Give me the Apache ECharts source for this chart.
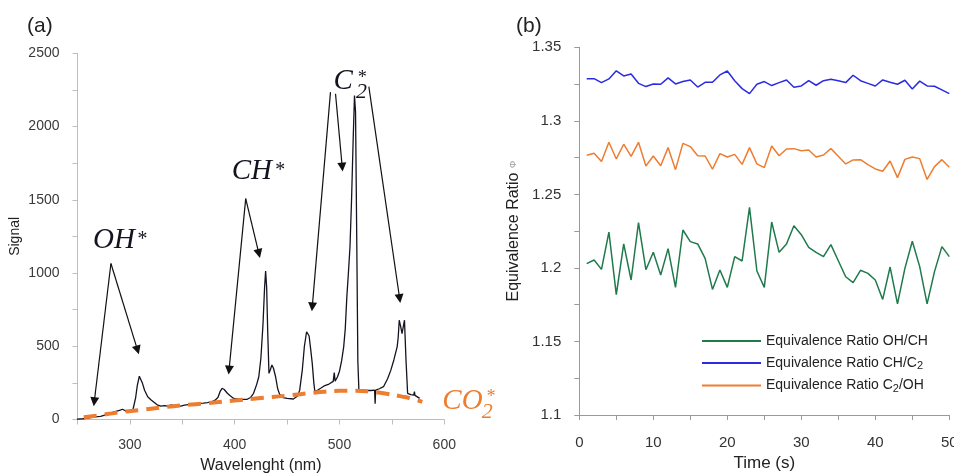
<!DOCTYPE html>
<html><head><meta charset="utf-8">
<script src="https://cdn.jsdelivr.net/npm/echarts@6/dist/echarts.min.js"></script>
<style>html,body{margin:0;padding:0;background:#fff}#c{width:954px;height:473px}</style>
</head><body><div id="c"></div>
<script>
// ---------- Panel (a): emission spectrum ----------
const specWavelength = [249.5,255,260,266,272,276,280,285,290,293,296,298,301,303,305.5,307,309,310.5,312,314,317,320,323,326,329.5,333,336,339,343,348.6,352,356,361,366,370,374,378,381,384,386,388,390,393,396,399,403,408,412,415,418,421,423,425,427,428.5,429.5,430.5,431.5,432.7,434,435.5,437,439,441,443,446,450,456,460,462,464.5,466.5,468.6,470,471,472.5,474,475.5,476.5,479,482,486,490,494,495,495.8,498,500,502,504,505.5,507,508.5,510,511.5,513,514.3,515.3,516.5,517.5,518.5,522,526,530,533.5,534,534.5,538,542,546,549,552,555,556,557,558.5,559.7,561,562,563.5,565,568,570.8,571.5,572,576.5];
const specSignal = [2,5,10,18,22,30,38,52,62,70,58,52,62,70,150,230,296,285,247,200,155,135,118,100,92,95,92,99,95,92,98,102,106,110,112,115,120,130,150,190,213,205,179,160,144,140,138,138,150,179,240,292,420,650,900,1014,900,600,315,340,372,350,292,210,170,150,144,140,160,200,337,500,599,590,570,480,383,250,190,200,213,232,242,260,320,262,290,330,400,496,620,837,1000,1178,1500,1900,2212,2100,1200,400,201,200,198,198,200,108,200,210,224,280,337,410,496,560,678,630,587,640,678,400,179,170,167,190,165,144];
const co2Wavelength = [256,270,288,310,330,350,375,400,425,450,475,500,515,530,545,560,570,579];
const co2Signal = [15,28,47,65,82,97,112,130,147,163,182,196,197,190,176,156,140,121];
// arrows: [from nm, from signal, to nm, to signal]
const arrowFromNm = [281.9,281.9,410.5,410.5,491.4,496.2,528];
const arrowFromSig = [1065,1065,1508,1508,2235,2224,2273];
const arrowToNm = [266,307.3,394.6,423.1,474,502.6,557.4];
const arrowToSig = [121,474,337,1133,769,1723,826];

// ---------- Panel (b): equivalence ratios ----------
const timeS = [1,2,3,4,5,6,7,8,9,10,11,12,13,14,15,16,17,18,19,20,21,22,23,24,25,26,27,28,29,30,31,32,33,34,35,36,37,38,39,40,41,42,43,44,45,46,47,48,49,50];
const ratioOHCH = [1.2029,1.2054,1.1990,1.2244,1.1818,1.2163,1.1918,1.2308,1.1988,1.2106,1.1952,1.2131,1.1868,1.2258,1.2179,1.2163,1.2065,1.1854,1.1986,1.1868,1.2077,1.2047,1.2412,1.1979,1.1868,1.2312,1.2106,1.2163,1.2287,1.2226,1.2140,1.2106,1.2077,1.2158,1.2049,1.1940,1.1900,1.1984,1.1963,1.1918,1.1786,1.2006,1.1755,1.1997,1.2181,1.2009,1.1755,1.1975,1.2145,1.2077];
const ratioCHC2 = [1.3287,1.3287,1.3260,1.3285,1.3340,1.3305,1.3319,1.3255,1.3233,1.3251,1.3249,1.3292,1.3251,1.3267,1.3278,1.3230,1.3262,1.3262,1.3312,1.3339,1.3273,1.3219,1.3185,1.3249,1.3267,1.3240,1.3260,1.3278,1.3228,1.3237,1.3273,1.3242,1.3273,1.3283,1.3273,1.3260,1.3310,1.3273,1.3255,1.3237,1.3278,1.3262,1.3249,1.3276,1.3217,1.3270,1.3237,1.3235,1.3210,1.3185];
const ratioC2OH = [1.2766,1.2779,1.2723,1.2854,1.2741,1.2841,1.2759,1.2854,1.2693,1.2761,1.2695,1.2818,1.2668,1.2847,1.2825,1.2763,1.2761,1.2671,1.2777,1.2754,1.2772,1.2704,1.2818,1.2707,1.2682,1.2829,1.2763,1.2809,1.2811,1.2797,1.2802,1.2754,1.2768,1.2811,1.2759,1.2707,1.2734,1.2736,1.2702,1.2673,1.2657,1.2727,1.2614,1.2738,1.2754,1.2743,1.2602,1.2689,1.2736,1.2684];
const seriesNames = ['Equivalence Ratio OH/CH','Equivalence Ratio CH/C2','Equivalence Ratio C2/OH'];

const zip = (a,b) => a.map((v,i)=>[v,b[i]]);
const ink = '#141420';
const orange = '#ED7D31';
const sans = 'Liberation Sans, Arial, sans-serif';

const chart = echarts.init(document.getElementById('c'));
chart.setOption({
  animation: false,
  backgroundColor: '#fff',
  title: [
    {text:'(a)', left:22, top:11, textStyle:{fontSize:21, fontWeight:'normal', color:'#222', fontFamily:sans}},
    {text:'(b)', left:511, top:11, textStyle:{fontSize:21, fontWeight:'normal', color:'#222', fontFamily:sans}}
  ],
  grid: [
    {left:77.5, right:509.7, top:53.3, bottom:53.5, outerBoundsMode:'none', containLabel:false},
    {left:579.3, right:4.7, top:47.3, bottom:58, outerBoundsMode:'none', containLabel:false}
  ],
  legend: {
    data: seriesNames, orient:'vertical', left:697, top:328,
    icon:'rect', itemWidth:59, itemHeight:2, itemGap:6,
    textStyle:{fontSize:14, color:'#222', fontFamily:sans, lineHeight:16,
      rich:{s:{fontSize:11, fontFamily:sans, color:'#222', padding:[6,0,0,0]}}},
    formatter: n => n.replace(/C2/g, 'C{s|2}')
  },
  xAxis: [
    {gridIndex:0, type:'value', min:250, max:600, interval:50,
     name:'Wavelenght (nm)', nameLocation:'middle', nameGap:35,
     nameTextStyle:{fontSize:16, color:'#222', fontFamily:sans},
     axisLine:{lineStyle:{color:'#bdbdbd', width:1}},
     axisTick:{length:5, lineStyle:{color:'#bdbdbd'}},
     axisLabel:{fontSize:14, color:'#3a3a3a', fontFamily:sans, margin:19, formatter:v => v % 100 === 0 ? String(v) : ''},
     splitLine:{show:false}},
    {gridIndex:1, type:'value', min:0, max:50, interval:5,
     name:'Time (s)', nameLocation:'middle', nameGap:37,
     nameTextStyle:{fontSize:17, color:'#222', fontFamily:sans},
     axisLine:{lineStyle:{color:'#9a9a9a', width:1}},
     axisTick:{length:5, lineStyle:{color:'#9a9a9a'}},
     axisLabel:{fontSize:15, color:'#333', fontFamily:sans, margin:20, hideOverlap:false, formatter:v => v % 10 === 0 ? String(v) : ''},
     splitLine:{show:false}}
  ],
  yAxis: [
    {gridIndex:0, type:'value', min:0, max:2500, interval:250,
     name:'Signal', nameLocation:'middle', nameGap:55,
     nameTextStyle:{fontSize:14, color:'#222', fontFamily:sans},
     axisLine:{show:true, lineStyle:{color:'#bdbdbd', width:1}},
     axisTick:{show:true, length:5, lineStyle:{color:'#bdbdbd'}},
     axisLabel:{fontSize:14, color:'#3a3a3a', fontFamily:sans, margin:18, formatter:v => v % 500 === 0 ? String(v) : ''},
     splitLine:{show:false}},
    {gridIndex:1, type:'value', min:1.1, max:1.35, interval:0.025,
     name:'Equivalence Ratio {p|Φ}', nameLocation:'middle', nameGap:58,
     nameTextStyle:{fontSize:16, color:'#222', fontFamily:sans, rich:{p:{fontSize:9, color:'#999', fontFamily:sans}}},
     axisLine:{show:true, lineStyle:{color:'#9a9a9a', width:1}},
     axisTick:{show:true, length:5, lineStyle:{color:'#9a9a9a'}},
     axisLabel:{fontSize:15, color:'#333', fontFamily:sans, margin:18,
       formatter:v => { const r = Math.round(v*1000); return r % 50 === 0 ? String(r/1000) : ''; }},
     splitLine:{show:false}}
  ],
  series: [
    {name:'spectrum', type:'line', xAxisIndex:0, yAxisIndex:0, data:zip(specWavelength, specSignal),
     showSymbol:false, symbol:'none', lineStyle:{color:ink, width:1.3}, z:3,
     markLine:{silent:true, symbol:['none','triangle'], symbolSize:9, animation:false,
       lineStyle:{color:'#111', width:1.2, type:'solid'}, label:{show:false},
       data: arrowFromNm.map((v,i)=>[{coord:[v, arrowFromSig[i]]},{coord:[arrowToNm[i], arrowToSig[i]]}])}},
    {name:'CO2', type:'line', xAxisIndex:0, yAxisIndex:0, data:zip(co2Wavelength, co2Signal),
     showSymbol:false, symbol:'none', smooth:true, z:4,
     lineStyle:{color:orange, width:4, type:[13,8]}},
    {name:seriesNames[0], type:'line', xAxisIndex:1, yAxisIndex:1, data:zip(timeS, ratioOHCH),
     showSymbol:false, symbol:'none', color:'#1f7a4c', lineStyle:{color:'#1f7a4c', width:1.5}},
    {name:seriesNames[1], type:'line', xAxisIndex:1, yAxisIndex:1, data:zip(timeS, ratioCHC2),
     showSymbol:false, symbol:'none', color:'#2b2be0', lineStyle:{color:'#2b2be0', width:1.5}},
    {name:seriesNames[2], type:'line', xAxisIndex:1, yAxisIndex:1, data:zip(timeS, ratioC2OH),
     showSymbol:false, symbol:'none', color:orange, lineStyle:{color:orange, width:1.5}}
  ]
});

// species labels anchored in data coordinates of panel (a)
const serif = 'Liberation Serif, Times New Roman, serif';
const labels = [
  {t:'OH', nm:264.8, sig:1224, size:29, c:ink, a:'left'},
  {t:'*', nm:311, sig:1230, size:20, c:ink, a:'center'},
  {t:'CH', nm:397.1, sig:1694, size:29, c:ink, a:'left'},
  {t:'*', nm:442.5, sig:1700, size:20, c:ink, a:'center'},
  {t:'C', nm:494.3, sig:2305, size:29, c:ink, a:'left'},
  {t:'*', nm:521, sig:2330, size:18, c:ink, a:'center'},
  {t:'2', nm:521, sig:2232, size:22, c:ink, a:'center'},
  {t:'CO', nm:598.1, sig:125, size:29, c:orange, a:'left'},
  {t:'2', nm:641, sig:50, size:22, c:orange, a:'center'},
  {t:'*', nm:643.8, sig:150, size:18, c:orange, a:'center'}
];
chart.setOption({
  graphic: labels.map(l => {
    const p = chart.convertToPixel({gridIndex:0}, [l.nm, l.sig]);
    return {type:'text', x:p[0], y:p[1], silent:true, z:10,
      style:{text:l.t, fill:l.c, fontSize:l.size, fontFamily:serif, fontStyle:'italic',
        textAlign:l.a, align:l.a, textVerticalAlign:'middle', verticalAlign:'middle'}};
  })
});
</script>
</body></html>
